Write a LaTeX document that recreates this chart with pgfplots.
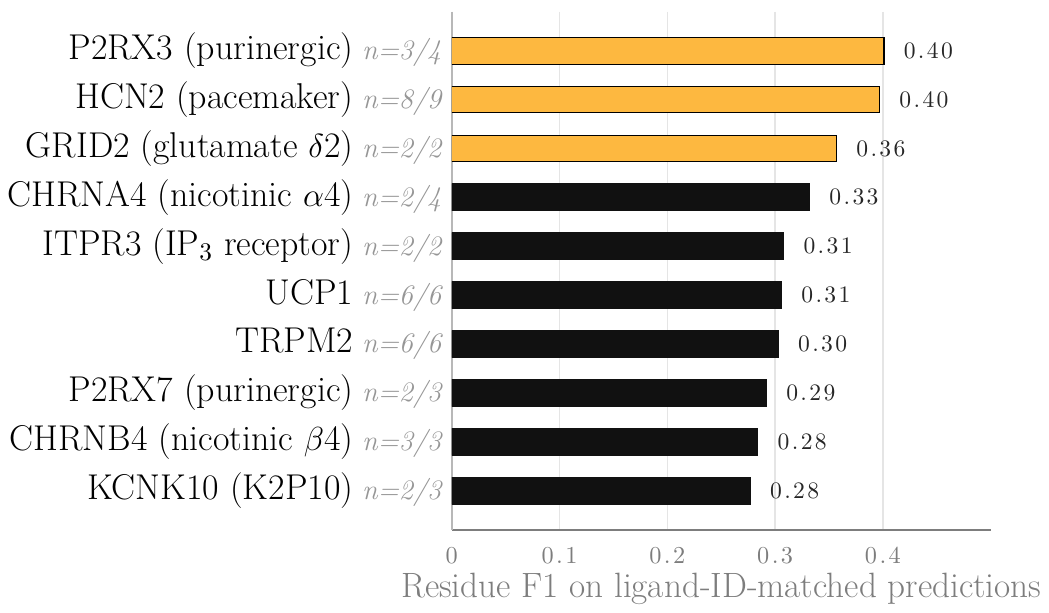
\documentclass[border=0pt]{standalone}
\usepackage{fontspec}
\usepackage{pgfplots}
\pgfplotsset{compat=1.18}
\definecolor{barorange}{RGB}{253,184,64}
\definecolor{barblack}{RGB}{17,17,17}
\definecolor{axgray}{RGB}{125,125,125}
\definecolor{ngray}{RGB}{150,150,150}
\newfontfamily\numfont[LetterSpace=10]{Latin Modern Roman}
\newcommand{\nl}[1]{\hspace{0.25em}{\color{ngray}\fontsize{12.2}{14}\selectfont\itshape n=#1}}
\begin{document}
\begin{tikzpicture}
\begin{axis}[
  xbar, scale only axis,
  width=233pt, height=224pt,
  xmin=0, xmax=0.5, ymin=-0.8, ymax=9.8, y dir=reverse,
  xtick={0,0.1,0.2,0.3,0.4}, ytick={0,...,9},
  yticklabels={
    {P2RX3 (purinergic)\nl{3/4}},
    {HCN2 (pacemaker)\nl{8/9}},
    {GRID2 (glutamate $\delta$2)\nl{2/2}},
    {CHRNA4 (nicotinic $\alpha$4)\nl{2/4}},
    {ITPR3 (IP$_3$ receptor)\nl{2/2}},
    {UCP1\nl{6/6}},
    {TRPM2\nl{6/6}},
    {P2RX7 (purinergic)\nl{2/3}},
    {CHRNB4 (nicotinic $\beta$4)\nl{3/3}},
    {KCNK10 (K2P10)\nl{2/3}}},
  yticklabel style={font=\fontsize{15.5}{18}\selectfont, anchor=east, xshift=-1pt},
  major tick length=0pt,
  xmajorgrids, grid style={color=black!10, line width=0.6pt},
  axis x line*=bottom, axis y line*=left,
  x axis line style={color=axgray, line width=0.7pt, -},
  y axis line style={color=black!28, line width=1pt, -},
  xticklabel style={font=\numfont\fontsize{10.5}{12}\selectfont, text=axgray, yshift=-4pt, /pgf/number format/assume math mode=true},
  xlabel={Residue F1 on ligand-ID-matched predictions},
  xlabel style={font=\fontsize{15.2}{18}\selectfont, text=axgray, yshift=3pt},
  bar width=11.6pt, bar shift=0pt,
  nodes near coords={\pgfmathprintnumber[fixed,fixed zerofill,precision=2,assume math mode=true]{\pgfplotspointmeta}},
  nodes near coords style={anchor=west, xshift=5pt, font=\numfont\fontsize{10.2}{12}\selectfont, text=black!85},
  after end axis/.code={\path (rel axis cs:0,1) ++(0,5pt);},
]
\addplot[fill=barorange, draw=black, line width=0.45pt] coordinates {(0.401,0) (0.397,1) (0.357,2)};
\addplot[fill=barblack, draw=barblack, line width=0.45pt] coordinates {(0.332,3) (0.308,4) (0.306,5) (0.303,6) (0.292,7) (0.284,8) (0.277,9)};
\end{axis}
\end{tikzpicture}
\end{document}
